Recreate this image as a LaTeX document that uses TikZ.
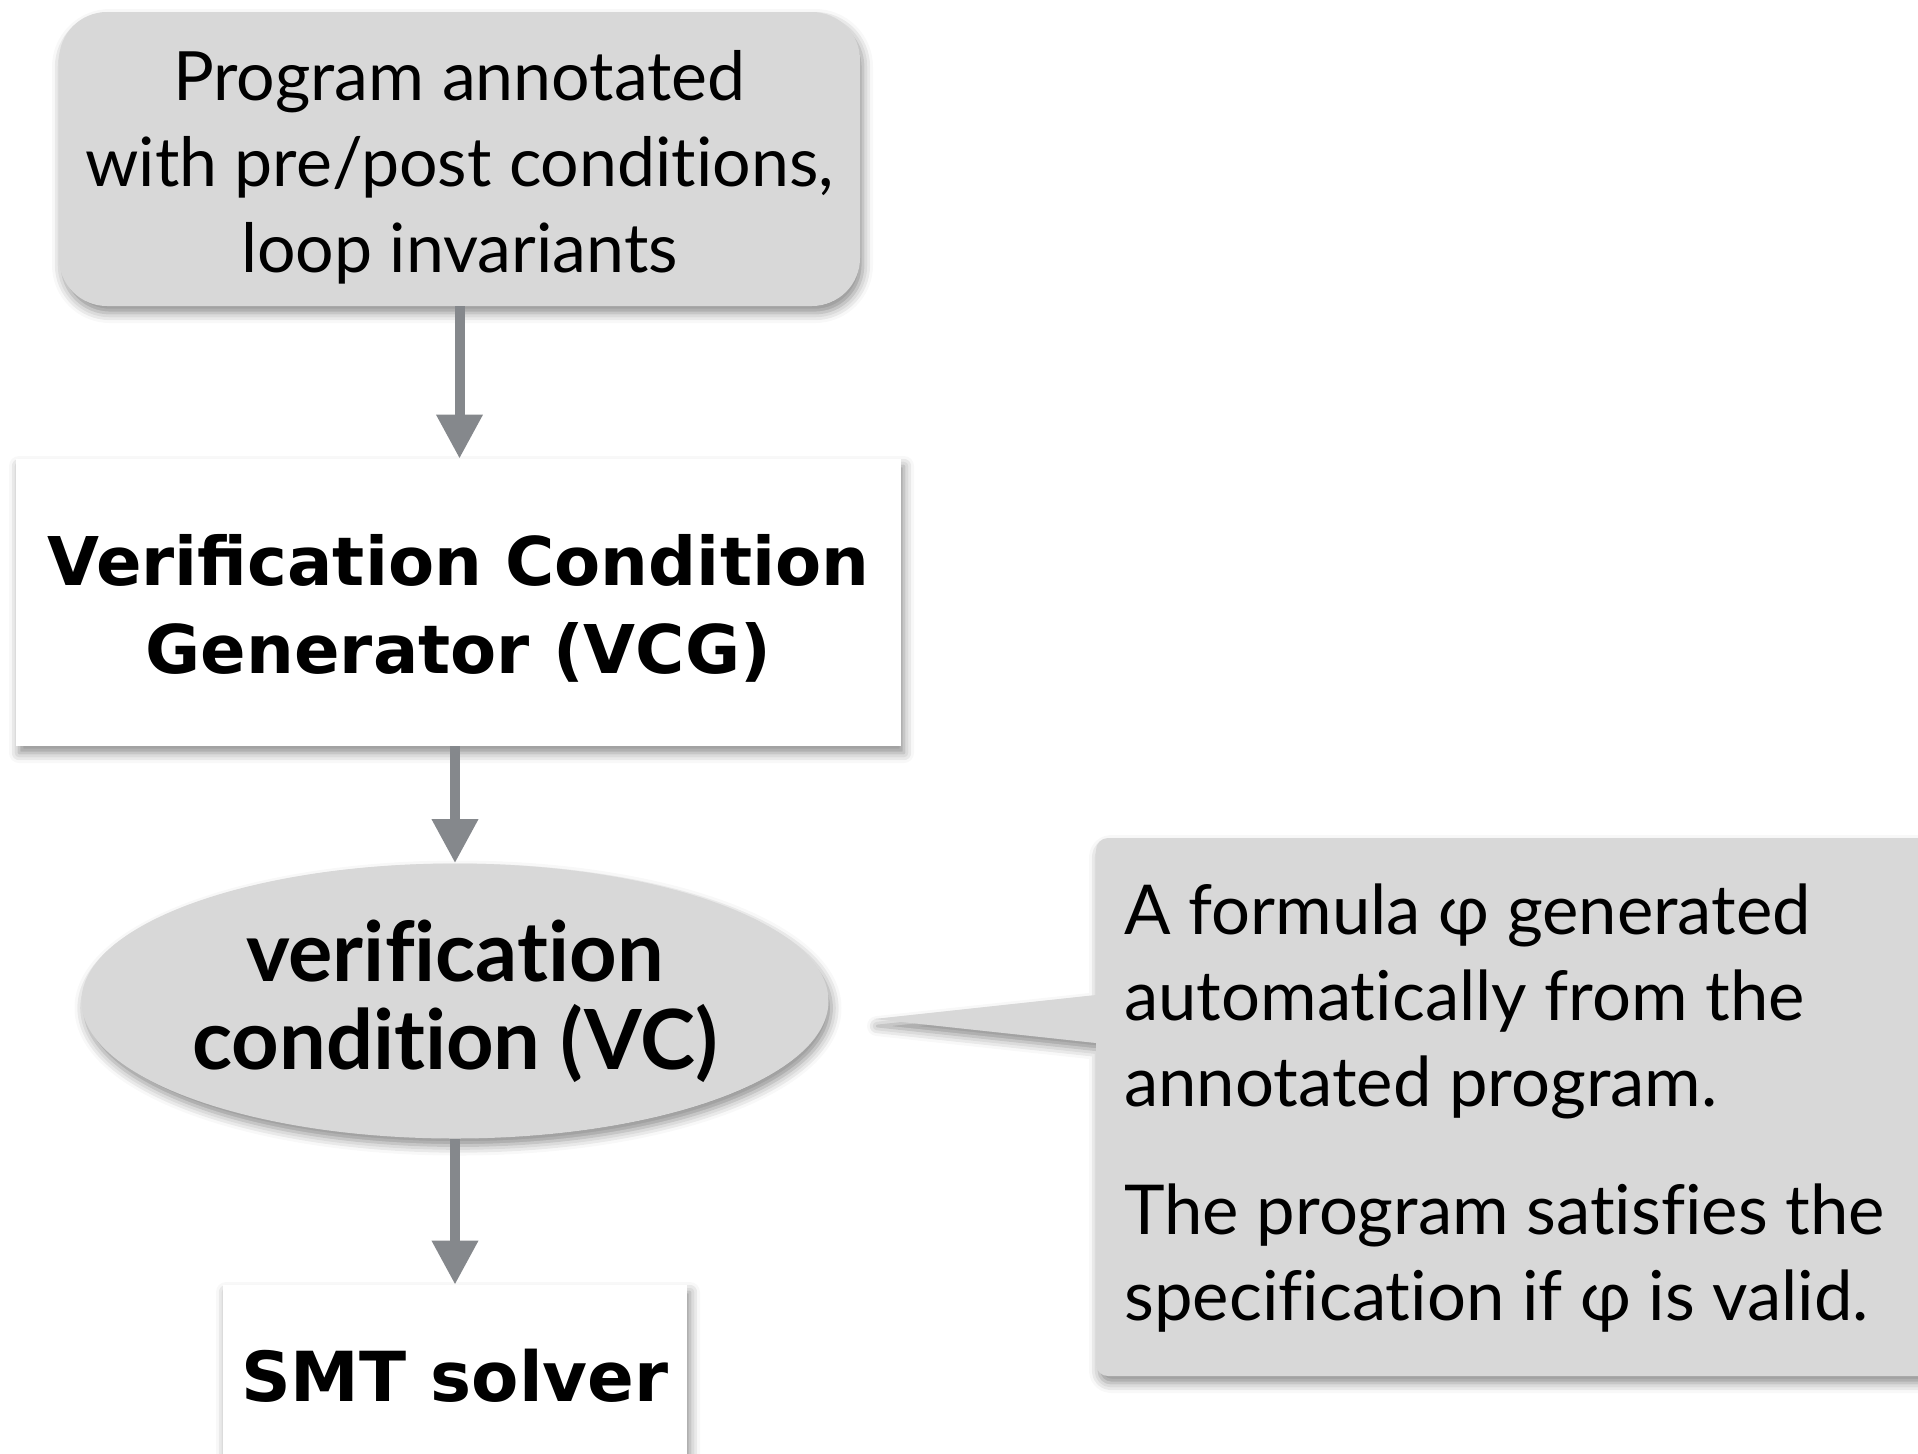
\documentclass[tikz,border=0pt]{standalone}
\usepackage{fontspec}
\setmainfont{Lato}[Ligatures=NoCommon]
\newfontfamily\vfont{DejaVu Sans}
\usetikzlibrary{arrows.meta,shapes.geometric,shadows.blur}
\definecolor{boxgray}{HTML}{D8D8D8}
\definecolor{arrowgray}{HTML}{85888C}
\begin{document}
\begin{tikzpicture}[x=0.5pt,y=-0.5pt,
  shad/.style={blur shadow={shadow xshift=1.5pt,shadow yshift=-3.5pt,shadow blur radius=5pt,shadow opacity=45}},
  flow/.style={draw=arrowgray,line width=5pt,-{Triangle[width=22pt,length=22pt]}},
  graybox/.style={fill=boxgray,rounded corners=24pt,inner sep=0pt,shad},
  whitebox/.style={fill=white,inner sep=0pt,shad,align=center,
    font=\vfont\bfseries\fontsize{34.5}{44}\selectfont},
  gilltext/.style={inner sep=0pt,align=center,font=\fontsize{34}{43}\selectfont},
  vcgtext/.style={inner sep=0pt,align=center,font=\vfont\bfseries\fontsize{33.6}{44}\selectfont},
  vcell/.style={ellipse,fill=boxgray,inner sep=0pt,shad,align=center,
    font=\bfseries\fontsize{41.5}{44}\selectfont},
  calltext/.style={inner sep=0pt,align=left,font=\fontsize{34.4}{43}\selectfont}
]
\useasboundingbox (0,0) rectangle (1918,1453);
\clip (0,0) rectangle (1918,1453);

% callout
\fill[boxgray,shad] (874,1019) -- (1096,1043) [rounded corners=6pt] -- (1096,1376) -- (1940,1376) -- (1940,838) -- (1096,838) [sharp corners] -- (1096,995) -- cycle;
\node[calltext,anchor=north west] (note) at (1124,883)
  {A formula φ generated\\automatically from the\\annotated program.\\[21pt]The program satisfies the\\specification if φ is valid.};

\node[graybox,minimum width=400.5pt,minimum height=147pt] (prog) at (459.5,159) {};
\node[gilltext] (progtext) at (459.5,167.5)
  {Program annotated\\with pre/post conditions,\\loop invariants};
\node[whitebox,minimum width=442.5pt,minimum height=143.5pt] (vcg) at (458.5,602.5) {};
\node[vcgtext] (vcgtext) at (458.5,608.5)
  {Verification Condition\\Generator (VCG)};
\node[vcell,minimum width=373.5pt,minimum height=137.5pt] (vc) at (455,1001)
  {verification\\condition (VC)};
\node[whitebox,minimum width=232pt,minimum height=91pt] (smt) at (455,1376) {SMT solver};

\draw[flow] (prog.south) -- (prog.south |- vcg.north);
\draw[flow] (vcg.south -| vc.north) -- (vc.north);
\draw[flow] (vc.south) -- (smt.north);
\end{tikzpicture}
\end{document}
